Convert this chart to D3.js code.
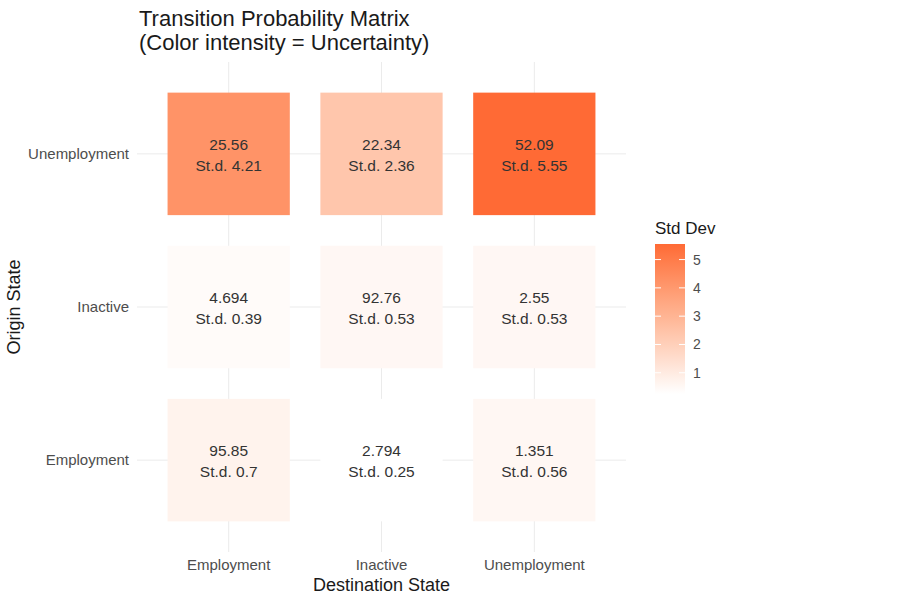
<!DOCTYPE html>
<html>
<head>
<meta charset="utf-8">
<script src="https://cdn.jsdelivr.net/npm/d3@7"></script>
<style>
  body { margin: 0; background: #fff; }
  text { font-family: "Liberation Sans", Arial, sans-serif; }
</style>
</head>
<body>
<svg width="900" height="600"></svg>
<script>
// states in axis order
var destStates = ['Employment', 'Inactive', 'Unemployment'];
var originStates = ['Employment', 'Inactive', 'Unemployment'];

// transition probabilities (%), rows = origin, cols = destination
var probEmployment = [95.85, 2.794, 1.351];
var probInactive = [4.694, 92.76, 2.55];
var probUnemployment = [25.56, 22.34, 52.09];

// standard deviations
var sdEmployment = [0.7, 0.25, 0.56];
var sdInactive = [0.39, 0.53, 0.53];
var sdUnemployment = [4.21, 2.36, 5.55];

var legendTicks = [1, 2, 3, 4, 5];

var probs = [probEmployment, probInactive, probUnemployment];
var sds = [sdEmployment, sdInactive, sdUnemployment];

var cells = [];
originStates.forEach(function (o, i) {
    destStates.forEach(function (d, j) {
        cells.push({origin: o, dest: d, p: probs[i][j], sd: sds[i][j]});
    });
});

var svg = d3.select('svg');

var pLeft = 137, pRight = 626, pTop = 62, pBottom = 552;

var x = d3.scaleBand().domain(destStates).range([pLeft, pRight]).paddingOuter(0.1).paddingInner(0);
var y = d3.scaleBand().domain(originStates.slice().reverse()).range([pTop, pBottom]).paddingOuter(0.1).paddingInner(0);

var sdMin = d3.min(cells, function (d) { return d.sd; });
var sdMax = d3.max(cells, function (d) { return d.sd; });
var color = d3.scaleLinear().domain([sdMin, sdMax]).range(['#ffffff', '#ff6a35']).interpolate(d3.interpolateLab);

// grid
var grid = svg.append('g');
destStates.forEach(function (d) {
    var cx = x(d) + x.bandwidth() / 2;
    grid.append('line').attr('x1', cx).attr('x2', cx).attr('y1', pTop).attr('y2', pBottom)
        .attr('stroke', '#ebebeb').attr('stroke-width', 1);
});
originStates.forEach(function (o) {
    var cy = y(o) + y.bandwidth() / 2;
    grid.append('line').attr('x1', pLeft).attr('x2', pRight).attr('y1', cy).attr('y2', cy)
        .attr('stroke', '#ebebeb').attr('stroke-width', 1);
});

// tiles
var tw = x.bandwidth() * 0.8, th = y.bandwidth() * 0.8;
svg.selectAll('rect.tile')
    .data(cells)
    .enter()
    .append('rect')
    .attr('class', 'tile')
    .attr('x', function (d) { return x(d.dest) + (x.bandwidth() - tw) / 2; })
    .attr('y', function (d) { return y(d.origin) + (y.bandwidth() - th) / 2; })
    .attr('width', tw)
    .attr('height', th)
    .attr('fill', function (d) { return color(d.sd); });

var fmt = d3.format('.4~g');
var labels = svg.selectAll('g.lab')
    .data(cells)
    .enter()
    .append('g')
    .attr('class', 'lab')
    .attr('transform', function (d) {
        return 'translate(' + (x(d.dest) + x.bandwidth() / 2) + ',' + (y(d.origin) + y.bandwidth() / 2) + ')';
    });
labels.append('text')
    .attr('text-anchor', 'middle')
    .attr('y', -4)
    .attr('font-size', 15.5)
    .attr('fill', '#333333')
    .text(function (d) { return fmt(d.p); });
labels.append('text')
    .attr('text-anchor', 'middle')
    .attr('y', 17)
    .attr('font-size', 15.5)
    .attr('fill', '#333333')
    .text(function (d) { return 'St.d. ' + d.sd; });

// axes
var xAxis = svg.append('g')
    .attr('transform', 'translate(0,' + pBottom + ')')
    .call(d3.axisBottom(x).tickSize(0).tickPadding(7));
xAxis.select('.domain').remove();
xAxis.selectAll('text').attr('font-size', 15).attr('fill', '#4d4d4d').attr('font-family', '"Liberation Sans", Arial, sans-serif');

var yAxis = svg.append('g')
    .attr('transform', 'translate(' + pLeft + ',0)')
    .call(d3.axisLeft(y).tickSize(0).tickPadding(8));
yAxis.select('.domain').remove();
yAxis.selectAll('text').attr('font-size', 15).attr('fill', '#4d4d4d').attr('font-family', '"Liberation Sans", Arial, sans-serif');

// titles
svg.append('text').attr('x', 139).attr('y', 26).attr('font-size', 22).attr('fill', '#1a1a1a')
    .text('Transition Probability Matrix');
svg.append('text').attr('x', 139).attr('y', 50).attr('font-size', 22).attr('fill', '#1a1a1a')
    .text('(Color intensity = Uncertainty)');

svg.append('text')
    .attr('x', (pLeft + pRight) / 2)
    .attr('y', 591)
    .attr('text-anchor', 'middle')
    .attr('font-size', 18)
    .attr('fill', '#1a1a1a')
    .text('Destination State');

svg.append('text')
    .attr('transform', 'rotate(270)')
    .attr('x', -(pTop + pBottom) / 2)
    .attr('y', 20)
    .attr('text-anchor', 'middle')
    .attr('font-size', 18)
    .attr('fill', '#1a1a1a')
    .text('Origin State');

// legend
var lx = 655, lw = 30, ltop = 244, lbot = 394;
var ly = d3.scaleLinear().domain([sdMin, sdMax]).range([lbot, ltop]);

var defs = svg.append('defs');
var grad = defs.append('linearGradient').attr('id', 'sdgrad')
    .attr('x1', 0).attr('y1', 1).attr('x2', 0).attr('y2', 0);
d3.range(0, 1.0001, 0.1).forEach(function (t) {
    grad.append('stop').attr('offset', t).attr('stop-color', color(sdMin + t * (sdMax - sdMin)));
});

svg.append('text').attr('x', lx).attr('y', 234).attr('font-size', 17).attr('fill', '#1a1a1a').text('Std Dev');
svg.append('rect').attr('x', lx).attr('y', ltop).attr('width', lw).attr('height', lbot - ltop)
    .attr('fill', 'url(#sdgrad)');

var lg = svg.append('g');
legendTicks.forEach(function (t) {
    lg.append('line').attr('x1', lx).attr('x2', lx + 6).attr('y1', ly(t)).attr('y2', ly(t)).attr('stroke', '#fff');
    lg.append('line').attr('x1', lx + lw - 6).attr('x2', lx + lw).attr('y1', ly(t)).attr('y2', ly(t)).attr('stroke', '#fff');
    lg.append('text').attr('x', lx + lw + 8).attr('y', ly(t) + 5).attr('font-size', 14).attr('fill', '#4d4d4d').text(t);
});
</script>
</body>
</html>
